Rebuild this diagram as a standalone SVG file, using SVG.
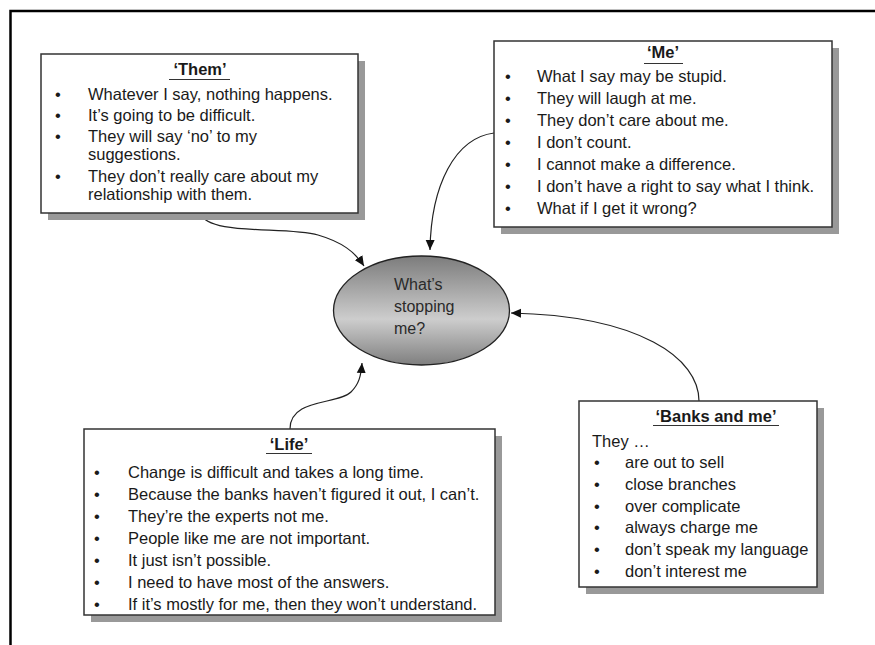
<svg xmlns="http://www.w3.org/2000/svg" width="875" height="645" viewBox="0 0 875 645">
  <defs>
    <linearGradient id="ovalFill" x1="0" y1="0" x2="0" y2="1">
      <stop offset="0" stop-color="#7c7c7c"/>
      <stop offset="0.58" stop-color="#cdcdcd"/>
      <stop offset="1" stop-color="#7f7f7f"/>
    </linearGradient>
    <marker id="arrow" viewBox="0 0 10 10" refX="10" refY="5" markerWidth="10" markerHeight="10" markerUnits="userSpaceOnUse" orient="auto">
      <path d="M0,0.5 L10,5 L0,9.5 Z" fill="#111"/>
    </marker>
  </defs>
  <style>
    .frame { fill: none; stroke: #000; stroke-width: 2.5; }
    .shadow { fill: #999; }
    .box { fill: #fff; stroke: #333; stroke-width: 1.5; }
    .title { font-family: "Liberation Sans", Arial, sans-serif; font-size: 16.5px; font-weight: bold; fill: #1a1a1a; text-anchor: middle; }
    .uline { stroke: #333; stroke-width: 1.2; }
    .item { font-family: "Liberation Sans", Arial, sans-serif; font-size: 16.5px; fill: #1a1a1a; }
    .oval-text { font-family: "Liberation Sans", Arial, sans-serif; font-size: 16px; fill: #2a2a2a; }
    .link { fill: none; stroke: #222; stroke-width: 1.2; marker-end: url(#arrow); }
  </style>

  <rect width="875" height="645" fill="#fff"/>
  <path class="frame" d="M10.5,645 V11 H875"/>

  <g id="connectors">
    <path class="link" d="M200,213 C208,236 285,226 318,235 C342,242 355,252 364,266"/>
    <path class="link" d="M494,133 C455,138 431,185 430,250"/>
    <path class="link" d="M290,429 C290,398 338,405 351,392 C359,384 361,376 362,363"/>
    <path class="link" d="M699,401 C699,358 640,316 511,313"/>
  </g>

  <g id="centre">
    <ellipse cx="421.5" cy="310.5" rx="88" ry="54.5" fill="url(#ovalFill)" stroke="#222" stroke-width="1.3"/>
    <text class="oval-text" x="394" y="290">What’s</text>
    <text class="oval-text" x="394" y="312">stopping</text>
    <text class="oval-text" x="394" y="334">me?</text>
  </g>

  <g id="them">
    <rect class="shadow" x="48" y="61" width="317" height="159"/>
    <rect class="box" x="41" y="54" width="317" height="159"/>
    <text class="title" x="200" y="75">‘Them’</text>
    <line class="uline" x1="169" y1="79.5" x2="230" y2="79.5"/>
    <g class="item">
      <text x="55" y="100">•</text><text x="88" y="100">Whatever I say, nothing happens.</text>
      <text x="55" y="121">•</text><text x="88" y="121">It’s going to be difficult.</text>
      <text x="55" y="142">•</text><text x="88" y="142">They will say ‘no’ to my</text>
      <text x="88" y="160">suggestions.</text>
      <text x="55" y="182">•</text><text x="88" y="182">They don’t really care about my</text>
      <text x="88" y="200">relationship with them.</text>
    </g>
  </g>

  <g id="me">
    <rect class="shadow" x="501" y="48" width="338" height="186"/>
    <rect class="box" x="494" y="41" width="338" height="186"/>
    <text class="title" x="663" y="58">‘Me’</text>
    <line class="uline" x1="644" y1="63.5" x2="683" y2="63.5"/>
    <g class="item">
      <text x="505" y="82">•</text><text x="537" y="82">What I say may be stupid.</text>
      <text x="505" y="104">•</text><text x="537" y="104">They will laugh at me.</text>
      <text x="505" y="126">•</text><text x="537" y="126">They don’t care about me.</text>
      <text x="505" y="148">•</text><text x="537" y="148">I don’t count.</text>
      <text x="505" y="170">•</text><text x="537" y="170">I cannot make a difference.</text>
      <text x="505" y="192">•</text><text x="537" y="192">I don’t have a right to say what I think.</text>
      <text x="505" y="214">•</text><text x="537" y="214">What if I get it wrong?</text>
    </g>
  </g>

  <g id="life">
    <rect class="shadow" x="91" y="436" width="411" height="186"/>
    <rect class="box" x="84" y="429" width="411" height="186"/>
    <text class="title" x="289" y="450">‘Life’</text>
    <line class="uline" x1="266" y1="453.5" x2="312" y2="453.5"/>
    <g class="item">
      <text x="94" y="478">•</text><text x="128" y="478">Change is difficult and takes a long time.</text>
      <text x="94" y="500">•</text><text x="128" y="500">Because the banks haven’t figured it out, I can’t.</text>
      <text x="94" y="522">•</text><text x="128" y="522">They’re the experts not me.</text>
      <text x="94" y="544">•</text><text x="128" y="544">People like me are not important.</text>
      <text x="94" y="566">•</text><text x="128" y="566">It just isn’t possible.</text>
      <text x="94" y="588">•</text><text x="128" y="588">I need to have most of the answers.</text>
      <text x="94" y="610">•</text><text x="128" y="610">If it’s mostly for me, then they won’t understand.</text>
    </g>
  </g>

  <g id="banks">
    <rect class="shadow" x="586" y="408" width="238" height="186"/>
    <rect class="box" x="579" y="401" width="238" height="186"/>
    <text class="title" x="716" y="422">‘Banks and me’</text>
    <line class="uline" x1="653" y1="425.5" x2="779" y2="425.5"/>
    <g class="item">
      <text x="592" y="447">They …</text>
      <text x="594" y="468">•</text><text x="625" y="468">are out to sell</text>
      <text x="594" y="490">•</text><text x="625" y="490">close branches</text>
      <text x="594" y="512">•</text><text x="625" y="512">over complicate</text>
      <text x="594" y="533">•</text><text x="625" y="533">always charge me</text>
      <text x="594" y="555">•</text><text x="625" y="555">don’t speak my language</text>
      <text x="594" y="577">•</text><text x="625" y="577">don’t interest me</text>
    </g>
  </g>
</svg>
